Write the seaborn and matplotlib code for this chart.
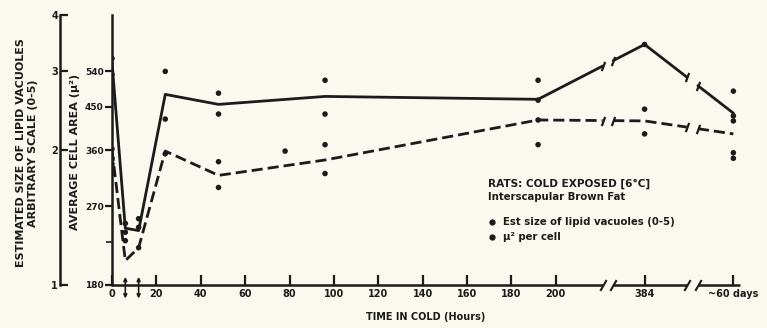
import numpy as np
import pandas as pd
import matplotlib
matplotlib.use("Agg")
import matplotlib.pyplot as plt
import seaborn as sns

# ---------------- data ----------------
line_hours = [0, 6, 12, 24, 48, 96, 192, 384, 1440]
lipid_line = [565, 241, 238, 479, 455, 474, 467, 619, 435]      # solid line (plotted on area scale; 1 unit = 180 µ²)
area_line = [360, 204, 218, 358, 316, 342, 420, 418, 391]       # dashed line

dot_hours = [0, 0, 0, 0, 0, 0, 0,
             6, 6, 6, 12, 12, 12,
             24, 24, 24,
             48, 48, 48, 48,
             78,
             96, 96, 96, 96,
             192, 192, 192, 192,
             384, 384, 384,
             1440, 1440, 1440, 1440, 1440]
dot_values = [576, 531, 504, 362, 345, 335, 319,
              247, 236, 226, 253, 242, 218,
              539, 422, 353,
              482, 433, 339, 297,
              358,
              515, 433, 370, 319,
              515, 465, 420, 370,
              619, 444, 391,
              487, 429, 418, 355, 345]

x_ticks = [0, 20, 40, 60, 80, 100, 120, 140, 160, 180, 200, 384, 1440]
x_tick_labels = ["0", "20", "40", "60", "80", "100", "120", "140", "160", "180", "200", "384", "~60 days"]
area_ticks = [180, 270, 360, 450, 540]
lipid_ticks = [1, 2, 3, 4]
arrow_hours = [6, 12]

# ---------------- style ----------------
ink = "#1b1b1b"
bg = "#fbf9ef"
sns.set_style("ticks")
plt.rcParams["font.family"] = ["DejaVu Sans"]
plt.rcParams["font.weight"] = "bold"
plt.rcParams["text.color"] = ink
plt.rcParams["axes.edgecolor"] = ink
plt.rcParams["xtick.color"] = ink
plt.rcParams["ytick.color"] = ink
FS = 7

W, H = 767, 328
fig = plt.figure(figsize=(W / 100, H / 100), dpi=100, facecolor=bg)
ax = fig.add_axes([112 / W, 43 / H, 628 / W, 270 / H])
ax.set_facecolor(bg)

# broken time axis as a function scale: hours -> position
kh = np.array([-1000.0, 200.0, 384.0, 1440.0, 3000.0])
kp = np.array([-1000.0, 200.0, 240.0, 280.0, 280.0 + 1560.0 * 40 / 1056])
fwd = lambda h: np.interp(h, kh, kp)
inv = lambda p: np.interp(p, kp, kh)
ax.set_xscale("function", functions=(fwd, inv))
ax.set_yscale("log")
ax.set_xlim(0, 1519)
ax.set_ylim(180, 720)

# gaps (in hours) where lines and axis are broken
gaps = [(297.0, 319.0), (886.0, 1018.0)]


def segmented(hours, vals):
    """Split a line at the axis breaks (gap ends interpolated in display space)."""
    ph = fwd(np.array(hours, float))
    lv = np.log(np.array(vals, float))
    rows = []
    pts = list(zip(hours, vals))
    bounds = [(-1, gaps[0][0]), (gaps[0][1], gaps[1][0]), (gaps[1][1], 1e9)]
    ends = []
    for s, (lo, hi) in enumerate(bounds):
        seg_pts = [(h, v) for h, v in pts if lo <= h <= hi]
        if lo > 0:
            v = float(np.exp(np.interp(fwd(lo), ph, lv)))
            seg_pts = [(lo, v)] + seg_pts
            ends.append((lo, v))
        if hi < 1e8:
            v = float(np.exp(np.interp(fwd(hi), ph, lv)))
            seg_pts = seg_pts + [(hi, v)]
            ends.append((hi, v))
        for h, v in seg_pts:
            rows.append({"hour": h, "value": v, "seg": s})
    return pd.DataFrame(rows), ends


df_solid, ends_solid = segmented(line_hours, lipid_line)
df_dash, ends_dash = segmented(line_hours, area_line)

sns.lineplot(data=df_solid, x="hour", y="value", units="seg", estimator=None,
             sort=False, color=ink, lw=2.0, ax=ax, legend=False)
sns.lineplot(data=df_dash, x="hour", y="value", units="seg", estimator=None,
             sort=False, color=ink, lw=2.0, linestyle=(0, (4, 1.8)), ax=ax, legend=False)

for ends in (ends_solid, ends_dash):
    eh = [e[0] for e in ends]
    ev = [e[1] for e in ends]
    ax.plot(eh, ev, ls="none", marker=(2, 0, -20), ms=7, mew=1.6, color=ink)

df_dots = pd.DataFrame({"hour": dot_hours, "value": dot_values})
sns.scatterplot(data=df_dots, x="hour", y="value", color=ink, s=16,
                edgecolor="none", ax=ax, legend=False, zorder=5)

# axes / spines
for s in ["top", "right", "bottom"]:
    ax.spines[s].set_visible(False)
ax.spines["left"].set_linewidth(1.8)
xt = ax.get_xaxis_transform()
axis_segs = [(0, gaps[0][0]), (gaps[0][1], gaps[1][0]), (gaps[1][1], 1519)]
for a, b in axis_segs:
    ax.plot([a, b], [0, 0], color=ink, lw=1.8, transform=xt, clip_on=False, solid_capstyle="butt")
for g0, g1 in gaps:
    ax.plot([g0, g1], [0, 0], ls="none", marker=(2, 0, -30), ms=9, mew=1.5,
            color=ink, transform=xt, clip_on=False)

ax.set_xticks(x_ticks)
ax.set_xticklabels(x_tick_labels, fontsize=FS, fontweight="bold")
ax.xaxis.set_minor_locator(matplotlib.ticker.NullLocator())
ax.tick_params(axis="x", direction="in", length=7, width=1.6, pad=3)

ax.set_yticks(area_ticks)
ax.set_yticklabels([str(t) for t in area_ticks], fontsize=6.5, fontweight="bold")
ax.yaxis.set_minor_locator(matplotlib.ticker.FixedLocator([225]))
ax.yaxis.set_minor_formatter(matplotlib.ticker.NullFormatter())
ax.tick_params(axis="y", which="major", direction="out", length=5, width=1.6, pad=1)
ax.tick_params(axis="y", which="minor", direction="out", length=4, width=1.2)
ax.set_xlabel("")
ax.set_ylabel("")

for hx in arrow_hours:
    ax.annotate("", xy=(hx, 0.03), xycoords=xt, xytext=(hx, -0.05), textcoords=xt,
                arrowprops=dict(arrowstyle="<|-|>", color=ink, lw=1.2, mutation_scale=5,
                                shrinkA=0, shrinkB=0), annotation_clip=False)

# outer (lipid vacuole) axis
ax2 = ax.twinx()
ax2.set_yscale("log")
ax2.set_ylim(1, 4)
for s in ["top", "right", "bottom"]:
    ax2.spines[s].set_visible(False)
ax2.spines["left"].set_visible(True)
ax2.spines["left"].set_position(("outward", 52 * 72 / 100))
ax2.spines["left"].set_linewidth(1.8)
ax2.yaxis.tick_left()
ax2.set_yticks(lipid_ticks)
ax2.set_yticklabels([str(t) for t in lipid_ticks], fontsize=FS, fontweight="bold")
ax2.yaxis.set_minor_locator(matplotlib.ticker.NullLocator())
ax2.tick_params(axis="y", direction="in", length=6, width=1.6, pad=1.5)
ax2.set_ylabel("")

# axis titles
fig.text(75 / W, 1 - 152 / H, "AVERAGE CELL AREA (\u03bc\u00b2)", rotation=90,
         ha="center", va="center", fontsize=8, fontweight="bold")
fig.text(27 / W, 1 - 153 / H, "ESTIMATED SIZE OF LIPID VACUOLES\nARBITRARY SCALE (0-5)",
         rotation=90, ha="center", va="center", fontsize=8, fontweight="bold",
         multialignment="center", linespacing=1.15)
fig.text(426 / W, 1 - 317 / H, "TIME IN COLD (Hours)", ha="center", va="center",
         fontsize=FS, fontweight="bold")

# legend block
fig.text(488 / W, 1 - 184 / H, "RATS: COLD EXPOSED [6\u00b0C]", ha="left", va="center",
         fontsize=7.6, fontweight="bold")
fig.text(488 / W, 1 - 197 / H, "Interscapular Brown Fat", ha="left", va="center",
         fontsize=7.3, fontweight="bold")
fig.text(503 / W, 1 - 222 / H, "Est size of lipid vacuoles (0-5)", ha="left", va="center",
         fontsize=7.3, fontweight="bold")
fig.text(503 / W, 1 - 237 / H, "\u03bc\u00b2 per cell", ha="left", va="center",
         fontsize=7.3, fontweight="bold")
fig.lines.append(matplotlib.lines.Line2D([492 / W, 492 / W], [1 - 222 / H, 1 - 237 / H],
                                         transform=fig.transFigure, ls="none", marker="o",
                                         ms=3.5, color=ink))

fig.savefig("out.png", dpi=100, facecolor=bg)
